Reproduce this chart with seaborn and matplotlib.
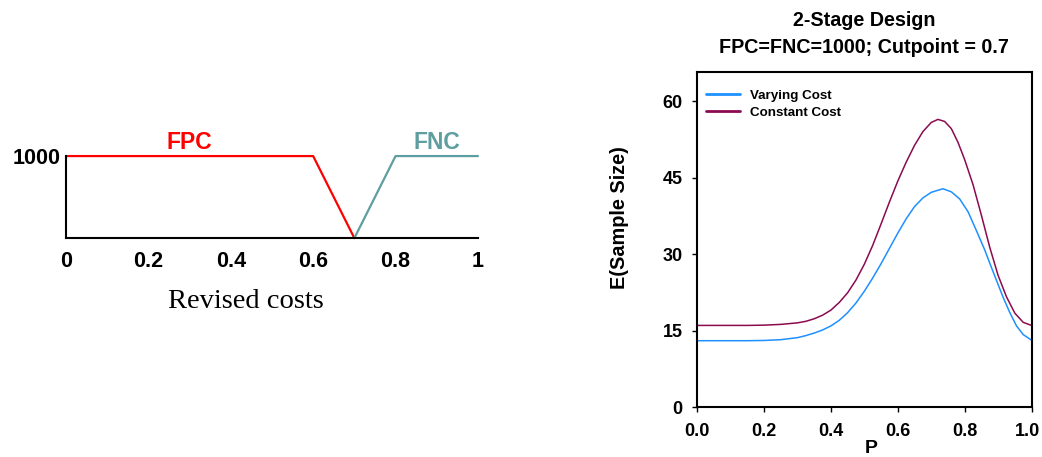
import matplotlib
matplotlib.use("Agg")
import matplotlib.pyplot as plt
import matplotlib.transforms as mtransforms
import seaborn as sns
import pandas as pd

# ---- left panel data (revised cost schedule) ----
fpc_x = [0.0, 0.6, 0.7]
fpc_y = [1000, 1000, 0]
fnc_x = [0.7, 0.8, 1.0]
fnc_y = [0, 1000, 1000]
left_xticks = [0, 0.2, 0.4, 0.6, 0.8, 1]
left_xticklabels = ["0", "0.2", "0.4", "0.6", "0.8", "1"]

# ---- right panel data (expected sample size) ----
const_p = [0.0, 0.05, 0.1, 0.15, 0.2, 0.25, 0.3, 0.325, 0.35, 0.375, 0.4, 0.425,
           0.45, 0.475, 0.5, 0.525, 0.55, 0.575, 0.6, 0.625, 0.65, 0.675, 0.7,
           0.72, 0.74, 0.76, 0.78, 0.8, 0.825, 0.85, 0.875, 0.9, 0.925, 0.95,
           0.975, 1.0]
const_e = [16.0, 16.0, 16.0, 16.0, 16.05, 16.2, 16.5, 16.8, 17.3, 18.0, 19.0, 20.5,
           22.4, 24.9, 28.0, 31.7, 35.9, 40.2, 44.3, 48.0, 51.3, 54.0, 55.8,
           56.4, 56.0, 54.6, 51.9, 48.5, 43.6, 37.6, 31.3, 25.8, 21.6, 18.4,
           16.6, 16.0]
vary_p = [0.0, 0.05, 0.1, 0.15, 0.2, 0.25, 0.3, 0.325, 0.35, 0.375, 0.4, 0.425,
          0.45, 0.475, 0.5, 0.525, 0.55, 0.575, 0.6, 0.625, 0.65, 0.675, 0.7,
          0.735, 0.76, 0.785, 0.81, 0.835, 0.86, 0.875, 0.9, 0.915, 0.935,
          0.955, 0.975, 1.0]
vary_e = [13.0, 13.0, 13.0, 13.0, 13.05, 13.2, 13.6, 14.0, 14.5, 15.1, 15.9, 17.0,
          18.5, 20.4, 22.7, 25.3, 28.1, 31.1, 34.1, 36.9, 39.3, 41.0, 42.1,
          42.8, 42.2, 40.8, 38.3, 34.6, 30.8, 28.2, 24.0, 21.5, 18.5,
          15.9, 14.2, 13.1]
right_ticks_y = [0, 15, 30, 45, 60]
right_ticks_x = [0.0, 0.2, 0.4, 0.6, 0.8, 1.0]

sns.set_theme(style="white")
plt.rcParams['font.family'] = ['Liberation Sans', 'DejaVu Sans']
plt.rcParams.update({"text.color": "black", "axes.labelcolor": "black",
                     "xtick.color": "black", "ytick.color": "black"})

fig = plt.figure(figsize=(10.42, 4.57), dpi=100)

# ---------------- left panel ----------------
axL = fig.add_axes([0.0633, 0.479, 0.3954, 0.1795])
dfl1 = pd.DataFrame({"x": fpc_x, "y": fpc_y})
dfl2 = pd.DataFrame({"x": fnc_x, "y": fnc_y})
sns.lineplot(data=dfl1, x="x", y="y", ax=axL, color="#FF0000", lw=1.6,
             sort=False, estimator=None)
sns.lineplot(data=dfl2, x="x", y="y", ax=axL, color="#5F9EA0", lw=1.6,
             sort=False, estimator=None)
for l in axL.lines:
    l.set_clip_on(False)
axL.set_xlim(0, 1)
axL.set_ylim(0, 1000)
axL.set_xticks(left_xticks)
axL.set_xticklabels(left_xticklabels)
axL.set_yticks([1000])
axL.set_yticklabels(["1000"])
axL.tick_params(axis="x", length=0, labelsize=15.5, pad=9)
axL.tick_params(axis="y", length=0, labelsize=15.5, pad=4)
for lab in axL.get_xticklabels() + axL.get_yticklabels():
    lab.set_fontweight("bold")
for s in ["top", "right"]:
    axL.spines[s].set_visible(False)
for s in ["left", "bottom"]:
    axL.spines[s].set_color("black")
    axL.spines[s].set_linewidth(1.5)
axL.set_xlabel("Revised costs", fontsize=20.5, family=['Liberation Serif', 'DejaVu Serif'])
axL.xaxis.set_label_coords(0.437, -0.62)
axL.set_ylabel("")
axL.text(0.30, 1160, "FPC", color="#FF0000", fontsize=16.5, fontweight="bold",
         ha="center", va="center")
axL.text(0.90, 1160, "FNC", color="#5F9EA0", fontsize=16.5, fontweight="bold",
         ha="center", va="center")

# ---------------- right panel ----------------
axR = fig.add_axes([0.669, 0.1094, 0.321, 0.7331])
dfv = pd.DataFrame({"P": vary_p, "E": vary_e})
dfc = pd.DataFrame({"P": const_p, "E": const_e})
sns.lineplot(data=dfv, x="P", y="E", ax=axR, color="#1E90FF", lw=1.1,
             label="Varying Cost", estimator=None)
sns.lineplot(data=dfc, x="P", y="E", ax=axR, color="#8B0A50", lw=1.1,
             label="Constant Cost", estimator=None)
axR.set_xlim(0, 1)
axR.set_ylim(0, 65.7)
axR.set_xticks(right_ticks_x)
axR.set_xticklabels([f"{v:.1f}" for v in right_ticks_x])
axR.set_yticks(right_ticks_y)
axR.set_yticklabels([str(v) for v in right_ticks_y])
axR.tick_params(axis="both", direction="out", length=3.6, width=1, color="black",
                labelsize=13, bottom=True, left=True)
axR.tick_params(axis="x", pad=8)
axR.tick_params(axis="y", pad=7)
for lab in axR.get_xticklabels() + axR.get_yticklabels():
    lab.set_fontweight("bold")
# keep the last x tick label inside the canvas
last = axR.get_xticklabels()[-1]
last.set_transform(last.get_transform() +
                   mtransforms.ScaledTranslation(-4 / 100, 0, fig.dpi_scale_trans))
for s in axR.spines.values():
    s.set_color("black")
    s.set_linewidth(1.5)
axR.set_xlabel("P", fontsize=14, fontweight="bold")
axR.xaxis.set_label_coords(0.52, -0.098)
axR.set_ylabel("E(Sample Size)", fontsize=14.3, fontweight="bold")
axR.yaxis.set_label_coords(-0.205, 0.564)
axR.set_title("2-Stage Design\nFPC=FNC=1000; Cutpoint = 0.7", fontsize=14.2,
              fontweight="bold", pad=14, linespacing=1.5)
leg = axR.legend(loc="upper left", frameon=False, handlelength=2.5,
                 handletextpad=0.75,
                 prop={"weight": "bold", "size": 9.6}, borderaxespad=0.3,
                 labelspacing=0.35, bbox_to_anchor=(0.0, 0.975))
for h in leg.get_lines():
    h.set_linewidth(2)

fig.savefig("out.png", dpi=100)
